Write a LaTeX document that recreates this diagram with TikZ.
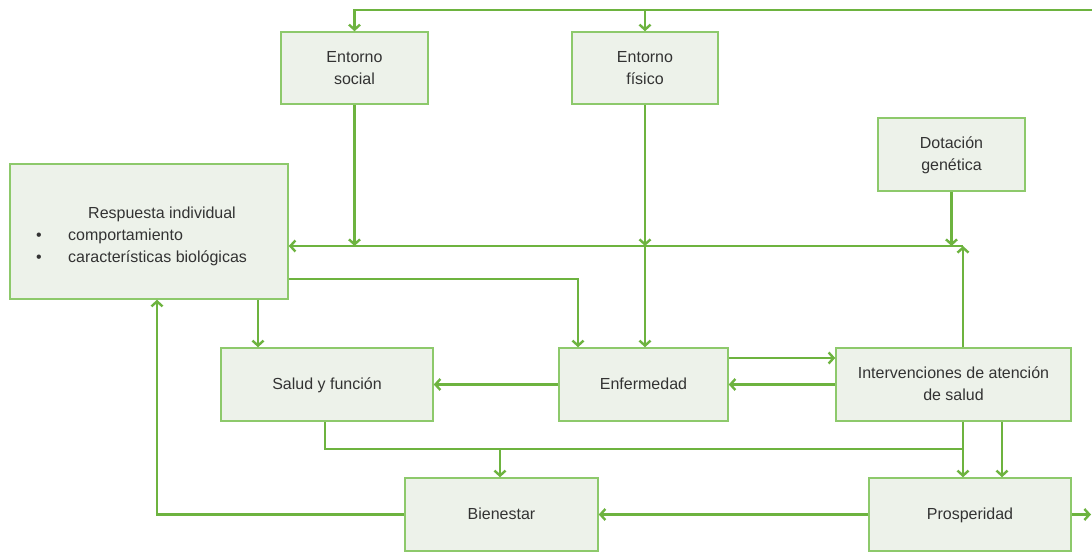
\documentclass[tikz,border=0pt]{standalone}
\usepackage{fontspec}
\setmainfont{Liberation Sans}
\usetikzlibrary{arrows.meta,calc}
\definecolor{lnk}{HTML}{6DB33F}
\definecolor{bord}{HTML}{8DC96B}
\definecolor{boxfill}{HTML}{EDF2EA}
\definecolor{txt}{HTML}{333333}
\newcommand\bxs{\rule[-6pt]{0pt}{22pt}}
\begin{document}
\begin{tikzpicture}[x=1pt,y=-1pt,
  box/.style={draw=bord, line width=1.5pt, fill=boxfill, inner sep=0pt, text=txt,
    font=\fontsize{16}{22}\selectfont, align=center},
  lbl/.style={inner sep=0pt, text=txt, font=\fontsize{16}{22}\selectfont},
  arr/.style={draw=lnk, line width=2.4pt, -{Straight Barb[length=5pt,width=11pt]}},
  ln/.style={draw=lnk, line width=2.4pt}]
\useasboundingbox (0,0) rectangle (1092,554);
% boxes
\node[box, minimum width=147pt, minimum height=72pt] (es) at (354.5,68) {\bxs Entorno\\\bxs social};
\node[box, minimum width=146pt, minimum height=72pt] (ef) at (645,68) {\bxs Entorno\\\bxs físico};
\node[box, minimum width=147pt, minimum height=73pt] (dg) at (951.5,154.5) {\bxs Dotación\\\bxs genética};
\node[box, minimum width=278pt, minimum height=135pt] (ri) at (149,231.5) {};
\node[box, minimum width=212pt, minimum height=73pt] (sf) at (327,384.5) {\bxs Salud y función};
\node[box, minimum width=169pt, minimum height=73pt] (en) at (643.5,384.5) {\bxs Enfermedad};
\node[box, minimum width=235pt, minimum height=73pt] (iv) at (953.5,384.5) {\bxs Intervenciones de atención\\\bxs de salud};
\node[box, minimum width=193pt, minimum height=73pt] (bi) at (501.5,514.5) {\bxs Bienestar};
\node[box, minimum width=202pt, minimum height=73pt] (pr) at (970,514.5) {\bxs Prosperidad};
% text of Respuesta individual
\node[lbl, anchor=base west] (rt) at (88,218) {Respuesta individual};
\node[lbl, anchor=base] (b1) at (39,240) {•};
\node[lbl, anchor=base west] (r1) at (68,240) {comportamiento};
\node[lbl, anchor=base] (b2) at (39,262) {•};
\node[lbl, anchor=base west] (r2) at (68,262) {características biológicas};
% helper coordinates
\coordinate (topR) at (1092,10);
\coordinate (hy) at (0,246);
\coordinate (y279) at (0,279);
\coordinate (y358) at (0,358);
\coordinate (y449) at (0,449);
\coordinate (x157) at (157,0);
\coordinate (x258) at (258,0);
\coordinate (x325) at (325,0);
\coordinate (x500) at (500,0);
\coordinate (x578) at (578,0);
\coordinate (x963) at (963,0);
\coordinate (x1002) at (1002,0);
\coordinate (x1091) at (1091,0);
% connectors
\draw[arr] (topR) -| (es.north);
\draw[arr] (ef.north |- topR) -- (ef.north);
\draw[arr] (es.south) -- (es.south |- hy);
\draw[arr] (ef.south) -- (ef.south |- hy);
\draw[arr] (ef.south |- hy) -- (ef.south |- en.north);
\draw[arr] (dg.south) -- (dg.south |- hy);
\draw[arr] (iv.north -| x963) -- (x963 |- hy);
\draw[arr] (x963 |- hy) -- (ri.east |- hy);
\draw[arr] (ri.east |- y279) -| (en.north -| x578);
\draw[arr] (ri.south -| x258) -- (sf.north -| x258);
\draw[arr] (bi.west) -| (ri.south -| x157);
\draw[arr] (en.west) -- (sf.east);
\draw[arr] (en.east |- y358) -- (iv.west |- y358);
\draw[arr] (iv.west) -- (en.east);
\draw[ln] (sf.south -| x325) |- (x963 |- y449);
\draw[arr] (iv.south -| x963) -- (pr.north -| x963);
\draw[arr] (x500 |- y449) -- (bi.north -| x500);
\draw[arr] (iv.south -| x1002) -- (pr.north -| x1002);
\draw[arr] (pr.west) -- (bi.east);
\draw[arr] (pr.east) -- (pr.east -| x1091);
\end{tikzpicture}
\end{document}
